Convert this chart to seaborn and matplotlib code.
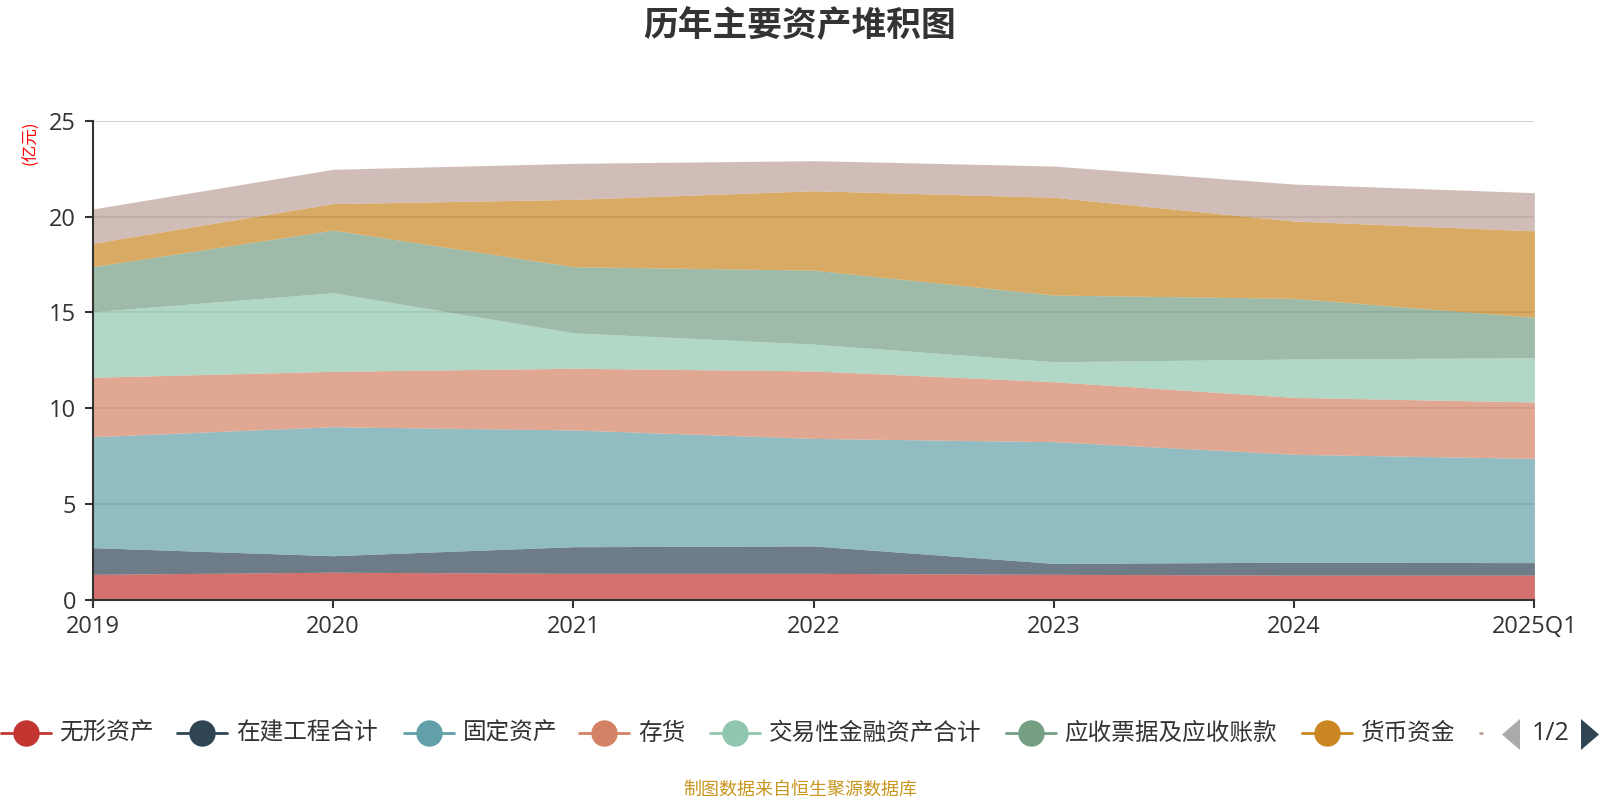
import numpy as np
import pandas as pd
import matplotlib
matplotlib.use("Agg")
import matplotlib.pyplot as plt
from matplotlib.lines import Line2D
from matplotlib.patches import Polygon
import seaborn as sns

# 数据（亿元）
periods = ["2019", "2020", "2021", "2022", "2023", "2024", "2025Q1"]
series_names = ["无形资产", "在建工程合计", "固定资产", "存货", "交易性金融资产合计",
                "应收票据及应收账款", "货币资金", "其他"]
wuxing = [1.34, 1.45, 1.39, 1.39, 1.34, 1.30, 1.30]
zaijian = [1.39, 0.86, 1.39, 1.43, 0.57, 0.67, 0.65]
guding = [5.79, 6.73, 6.09, 5.61, 6.35, 5.63, 5.44]
cunhuo = [3.10, 2.89, 3.22, 3.52, 3.13, 2.97, 2.94]
jiaoyi = [3.42, 4.10, 1.85, 1.40, 1.04, 2.00, 2.31]
yingshou = [2.35, 3.27, 3.45, 3.86, 3.48, 3.17, 2.11]
huobi = [1.22, 1.38, 3.51, 4.14, 5.10, 4.03, 4.51]
qita = [1.79, 1.79, 1.88, 1.57, 1.63, 1.93, 1.99]

colors = ['#c23531', '#2f4554', '#61a0a8', '#d48265', '#91c7ae',
          '#749f83', '#ca8622', '#bda29a']

df = pd.DataFrame(dict(zip(series_names,
                           [wuxing, zaijian, guding, cunhuo, jiaoyi, yingshou, huobi, qita])),
                  index=periods)

sns.set_theme(style="white")
plt.rcParams['font.family'] = ['Noto Sans CJK SC', 'DejaVu Sans']

fig = plt.figure(figsize=(16, 8), dpi=100)
ax = fig.add_axes([0.058, 0.25, 0.901, 0.599])

x = np.arange(len(periods))
ax.set_axisbelow(True)
ax.yaxis.grid(True, color='#cccccc', linewidth=1.3)
ax.stackplot(x, *[df[c].values for c in series_names], colors=colors, alpha=0.7,
             linewidth=0)

ax.set_xlim(0, len(periods) - 1)
ax.set_ylim(0, 25)
ax.set_yticks([0, 5, 10, 15, 20, 25])
ax.set_xticks(x)
ax.set_xticklabels(periods)
sns.despine(ax=ax, top=True, right=True)
for s in ['left', 'bottom']:
    ax.spines[s].set_color('#333333')
    ax.spines[s].set_linewidth(1.5)
ax.tick_params(axis='both', colors='#333333', labelsize=17, direction='out',
               length=6, width=1.5, left=True, bottom=True)
ax.tick_params(axis='y', pad=6)
ax.tick_params(axis='x', pad=5)
for lab in ax.get_xticklabels() + ax.get_yticklabels():
    lab.set_family(['Open Sans', 'DejaVu Sans'])

fig.text(0.019, 0.821, "(亿元)", rotation=90, color='red', fontsize=12,
         ha='center', va='center')

fig.text(0.5, 0.968, "历年主要资产堆积图", fontsize=25, fontweight='bold',
         color='#333333', ha='center', va='center')

# 图例（第一页）
W, H = 1600, 800
leg_y = 1 - 733 / H
marker_x = [25.5, 202, 428.6, 604, 734.7, 1030.6, 1326.5]
for i in range(7):
    cx = marker_x[i] / W
    fig.add_artist(Line2D([cx - 25 / W, cx + 25 / W], [leg_y, leg_y],
                          color=colors[i], linewidth=2, transform=fig.transFigure))
    fig.add_artist(Line2D([cx], [leg_y], marker='o', markersize=18, color=colors[i],
                          transform=fig.transFigure))
    fig.text(cx + 34 / W, leg_y, series_names[i], fontsize=17, color='#333333',
             ha='left', va='center')
fig.add_artist(Line2D([1480 / W, 1482 / W], [leg_y, leg_y], color=colors[7],
                      linewidth=2, transform=fig.transFigure))

# 翻页按钮
def tri(pts, color):
    fig.add_artist(Polygon([(px / W, 1 - py / H) for px, py in pts], closed=True,
                           facecolor=color, edgecolor='none', transform=fig.transFigure))

tri([(1520, 719), (1520, 750), (1502, 734.5)], '#aaaaaa')
tri([(1581, 719), (1581, 750), (1599, 734.5)], '#2f4554')
fig.text(1551 / W, leg_y, "1/2", fontsize=18, color='#333333', ha='center', va='center',
         family=['Open Sans', 'DejaVu Sans'])

fig.text(0.5, 1 - 790 / H, "制图数据来自恒生聚源数据库", fontsize=13, color='#c9961e',
         ha='center', va='center')

fig.savefig("out.png", dpi=100)
